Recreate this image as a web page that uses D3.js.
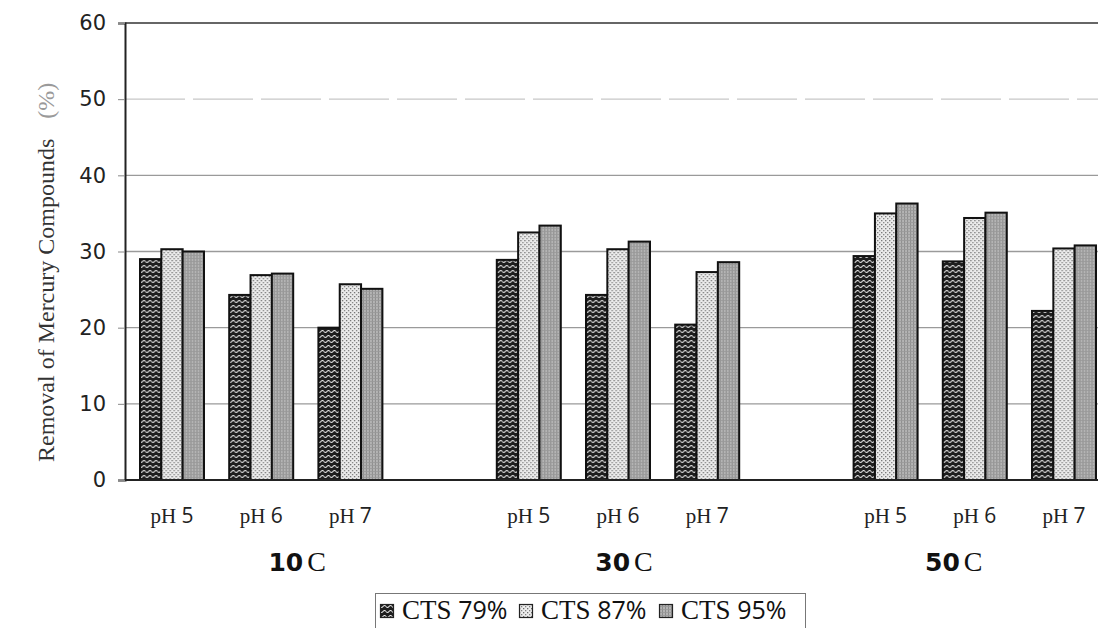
<!DOCTYPE html>
<html lang="en">
<head>
  <meta charset="UTF-8">
  <title>Removal of Mercury Compounds</title>
  <script src='https://d3js.org/d3.v7.min.js'></script>
  <style>
    body { margin: 0; background: #fff; }
  </style>
</head>
<body>
</body>
<script>
  const width = 1098, height = 628;

  // data
  const temps = ['10', '30', '50'];
  const phs = ['pH 5', 'pH 6', 'pH 7'];
  const series = ['CTS 79%', 'CTS 87%', 'CTS 95%'];
  // order: 10C pH5, pH6, pH7, 30C pH5..., 50C pH5...
  const cts79 = [29.0, 24.3, 20.0, 28.9, 24.3, 20.4, 29.4, 28.7, 22.2];
  const cts87 = [30.3, 26.9, 25.7, 32.5, 30.3, 27.3, 35.0, 34.4, 30.4];
  const cts95 = [30.0, 27.1, 25.1, 33.4, 31.3, 28.6, 36.3, 35.1, 30.8];
  const yTicks = [0, 10, 20, 30, 40, 50, 60];

  const seriesValues = [cts79, cts87, cts95];

  // one slot per pH plus one empty slot after each temperature
  const slots = [];
  temps.forEach(t => {
    phs.forEach(p => slots.push(t + '|' + p));
    slots.push(t + '|gap');
  });

  const rows = [];
  temps.forEach((t, ti) => {
    phs.forEach((p, pi) => {
      const idx = ti * 3 + pi;
      rows.push({temp: t, ph: p, slot: t + '|' + p,
        values: series.map((s, si) => ({series: s, value: seriesValues[si][idx]}))});
    });
  });

  const svg = d3.select('body').append('svg')
    .attr('width', width).attr('height', height);

  // hatch patterns like the scanned fills
  const defs = svg.append('defs');
  const p0 = defs.append('pattern').attr('id', 'pat0')
    .attr('patternUnits', 'userSpaceOnUse').attr('width', 6).attr('height', 5);
  p0.append('rect').attr('width', 6).attr('height', 5).attr('fill', '#1e1e1e');
  p0.append('path').attr('d', 'M0,1.5 Q1.5,3.5 3,1.5 T6,1.5')
    .attr('stroke', '#e8e8e8').attr('stroke-width', 1.1).attr('fill', 'none');

  const p1 = defs.append('pattern').attr('id', 'pat1')
    .attr('patternUnits', 'userSpaceOnUse').attr('width', 4).attr('height', 4);
  p1.append('rect').attr('width', 4).attr('height', 4).attr('fill', '#ececec');
  p1.append('rect').attr('x', 0).attr('y', 0).attr('width', 1.3).attr('height', 1.3).attr('fill', '#6e6e6e');
  p1.append('rect').attr('x', 2).attr('y', 2).attr('width', 1.3).attr('height', 1.3).attr('fill', '#808080');

  const p2 = defs.append('pattern').attr('id', 'pat2')
    .attr('patternUnits', 'userSpaceOnUse').attr('width', 3).attr('height', 3);
  p2.append('rect').attr('width', 3).attr('height', 3).attr('fill', '#b4b4b4');
  p2.append('rect').attr('x', 0).attr('width', 1).attr('height', 3).attr('fill', '#8c8c8c');
  p2.append('rect').attr('y', 0).attr('width', 3).attr('height', 0.8).attr('fill', '#999');

  const fills = ['url(#pat0)', 'url(#pat1)', 'url(#pat2)'];

  // scales
  const plotLeft = 125, plotTop = 23, plotBottom = 480;
  const slotW = 89.2;
  const x0 = d3.scaleBand().domain(slots).range([127.5, 127.5 + slots.length * slotW]);
  const x1 = d3.scaleBand().domain(series).range([12.5, 76.5]);
  const y = d3.scaleLinear().domain([0, 60]).range([plotBottom, plotTop]);

  // gridlines
  svg.append('g').selectAll('line')
    .data(yTicks.filter(d => d > 0 && d < 60))
    .join('line')
    .attr('x1', plotLeft).attr('x2', width)
    .attr('y1', d => y(d)).attr('y2', d => y(d))
    .attr('stroke', d => d === 50 ? '#c8c8c8' : '#9a9a9a')
    .attr('stroke-width', 1.3)
    .attr('stroke-dasharray', d => d === 50 ? '60,8' : null);

  // top border
  svg.append('line').attr('x1', plotLeft).attr('x2', width)
    .attr('y1', y(60)).attr('y2', y(60))
    .attr('stroke', '#333').attr('stroke-width', 1.5);

  // y axis
  const yAxis = d3.axisLeft(y).tickValues(yTicks).tickSize(7).tickPadding(12);
  const gy = svg.append('g').attr('transform', `translate(${plotLeft},0)`).call(yAxis);
  gy.select('.domain').attr('stroke', '#222').attr('stroke-width', 2);
  gy.selectAll('.tick line').attr('stroke', '#888');
  gy.selectAll('.tick text')
    .attr('font-family', 'DejaVu Sans, sans-serif')
    .attr('font-size', 21).attr('fill', '#222');

  // bars
  const groups = svg.append('g').selectAll('g')
    .data(rows)
    .join('g')
    .attr('transform', d => `translate(${x0(d.slot)},0)`);

  groups.selectAll('rect')
    .data(d => d.values)
    .join('rect')
    .attr('x', d => x1(d.series))
    .attr('y', d => y(d.value))
    .attr('width', x1.bandwidth())
    .attr('height', d => y(0) - y(d.value))
    .attr('fill', (d, i) => fills[i])
    .attr('stroke', '#111')
    .attr('stroke-width', 2);

  // baseline
  svg.append('line').attr('x1', plotLeft).attr('x2', width)
    .attr('y1', y(0)).attr('y2', y(0))
    .attr('stroke', '#222').attr('stroke-width', 2);

  // pH labels
  const phLab = svg.append('g').selectAll('text')
    .data(rows)
    .join('text')
    .attr('x', d => x0(d.slot) + 44.5)
    .attr('y', 523)
    .attr('text-anchor', 'middle')
    .attr('fill', '#222')
    .attr('font-size', 21);
  phLab.append('tspan').attr('font-family', 'Liberation Serif, serif').text('pH ');
  phLab.append('tspan').attr('font-family', 'Open Sans, sans-serif').text(d => d.ph.split(' ')[1]);

  // temperature labels, positioned below the pH 6 slot
  const tempShift = [36, 6, -21];
  const tLab = svg.append('g').selectAll('text')
    .data(temps)
    .join('text')
    .attr('x', (d, i) => x0(d + '|pH 6') + 44.5 + tempShift[i])
    .attr('y', 571)
    .attr('text-anchor', 'middle')
    .attr('fill', '#111');
  tLab.append('tspan').attr('font-family', 'DejaVu Sans, sans-serif')
    .attr('font-weight', 'bold').attr('font-size', 25).text(d => d);
  tLab.append('tspan').attr('font-family', 'Liberation Serif, serif')
    .attr('font-size', 28).attr('dx', 4).text('C');

  // y axis title
  const yt = svg.append('text')
    .attr('transform', 'translate(54,462) rotate(-90)')
    .attr('font-family', 'Liberation Serif, serif')
    .attr('font-size', 24)
    .attr('fill', '#333');
  yt.append('tspan').text('Removal of Mercury Compounds');
  yt.append('tspan').attr('dx', 20).attr('fill', '#9a9a9a').text('(%)');

  // legend
  const legend = svg.append('g');
  legend.append('rect')
    .attr('x', 375.5).attr('y', 593.5).attr('width', 430).attr('height', 40)
    .attr('fill', '#fff').attr('stroke', '#777').attr('stroke-width', 1);
  const legendX = [380, 519, 659];
  series.forEach((s, i) => {
    const g = legend.append('g').attr('transform', `translate(${legendX[i]},0)`);
    g.append('rect').attr('x', 0.5).attr('y', 604.5).attr('width', 13).attr('height', 13)
      .attr('fill', fills[i]).attr('stroke', '#222').attr('stroke-width', 1.2);
    const t = g.append('text').attr('x', 22).attr('y', 619)
      .attr('font-size', 27).attr('fill', '#111');
    t.append('tspan').attr('font-family', 'Liberation Serif, serif').text('CTS ');
    t.append('tspan').attr('font-family', 'Open Sans, sans-serif').attr('font-size', 25)
      .text(s.split(' ')[1]);
  });
</script>
</html>
